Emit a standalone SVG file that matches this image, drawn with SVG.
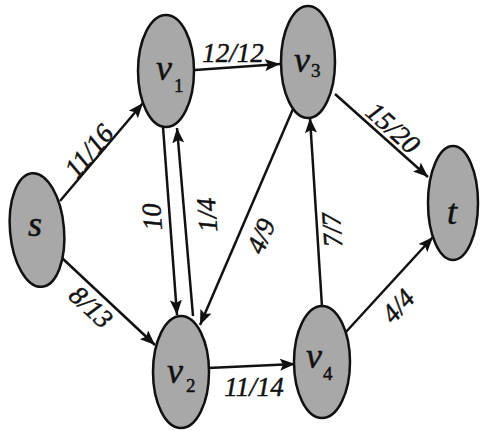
<svg xmlns="http://www.w3.org/2000/svg" width="481" height="430" viewBox="0 0 481 430">
  <style>
    .node { fill: #a8a8a8; stroke: #111; stroke-width: 2.5; }
    .nl { font-family: 'Liberation Serif', 'Times New Roman', serif; font-style: italic; font-size: 36px; fill: #111; stroke: #111; stroke-width: 0.5; }
    .sub { font-style: normal; font-size: 19px; }
    .edge { stroke: #111; stroke-width: 2.5; fill: none; marker-end: url(#arr); }
    .el { font-family: 'Liberation Serif', 'Times New Roman', serif; font-style: italic; font-size: 27px; fill: #111; stroke: #111; stroke-width: 0.5; text-anchor: middle; dominant-baseline: central; }
  </style>
  <defs>
    <marker id="arr" markerUnits="userSpaceOnUse" markerWidth="16" markerHeight="12" refX="15" refY="6" orient="auto">
      <path d="M0,0 L15,6 L0,12 L3,6 z" fill="#111"/>
    </marker>
  </defs>
  <rect width="481" height="430" fill="#fff"/>
  <g id="connectors">
    <line class="edge" x1="60" y1="201" x2="143" y2="103"/>
    <line class="edge" x1="195" y1="70" x2="280" y2="64"/>
    <line class="edge" x1="335" y1="94" x2="428" y2="177"/>
    <line class="edge" x1="62" y1="258" x2="155" y2="345"/>
    <line class="edge" x1="163" y1="127" x2="177" y2="315"/>
    <line class="edge" x1="193" y1="316" x2="177" y2="128"/>
    <line class="edge" x1="293" y1="109" x2="200" y2="325"/>
    <line class="edge" x1="322" y1="307" x2="310" y2="118"/>
    <line class="edge" x1="208" y1="368" x2="295" y2="364"/>
    <line class="edge" x1="345" y1="333" x2="433" y2="237"/>
    <text class="el" transform="translate(89,151) rotate(-50)">11/16</text>
    <text class="el" x="233" y="53">12/12</text>
    <text class="el" transform="translate(393,128) rotate(42)">15/20</text>
    <text class="el" transform="translate(91,307) rotate(43)">8/13</text>
    <text class="el" transform="translate(152,217) rotate(-94)">10</text>
    <text class="el" transform="translate(207,215) rotate(-94)">1/4</text>
    <text class="el" transform="translate(261,236) rotate(-67)">4/9</text>
    <text class="el" transform="translate(332,230) rotate(-94)">7/7</text>
    <text class="el" x="254" y="387">11/14</text>
    <text class="el" transform="translate(398,306) rotate(-48)">4/4</text>
  </g>
  <g id="s">
    <ellipse class="node" cx="37" cy="230" rx="27" ry="57" transform="rotate(-5 37 230)"/>
    <text class="nl" x="28" y="236" font-size="34">s</text>
  </g>
  <g id="v1">
    <ellipse class="node" cx="166" cy="71" rx="28" ry="56"/>
    <text class="nl" x="156" y="80">v<tspan class="sub" x="174" y="92">1</tspan></text>
  </g>
  <g id="v3">
    <ellipse class="node" cx="308" cy="62" rx="27" ry="56"/>
    <text class="nl" x="294" y="72">v<tspan class="sub" x="311" y="77">3</tspan></text>
  </g>
  <g id="t">
    <ellipse class="node" cx="453" cy="203" rx="25" ry="57"/>
    <text class="nl" x="447" y="224">t</text>
  </g>
  <g id="v2">
    <ellipse class="node" cx="181" cy="372" rx="28" ry="56"/>
    <text class="nl" x="167" y="383">v<tspan class="sub" x="186" y="392">2</tspan></text>
  </g>
  <g id="v4">
    <ellipse class="node" cx="322" cy="362" rx="28" ry="56"/>
    <text class="nl" x="306" y="368">v<tspan class="sub" x="323" y="380">4</tspan></text>
  </g>
</svg>
